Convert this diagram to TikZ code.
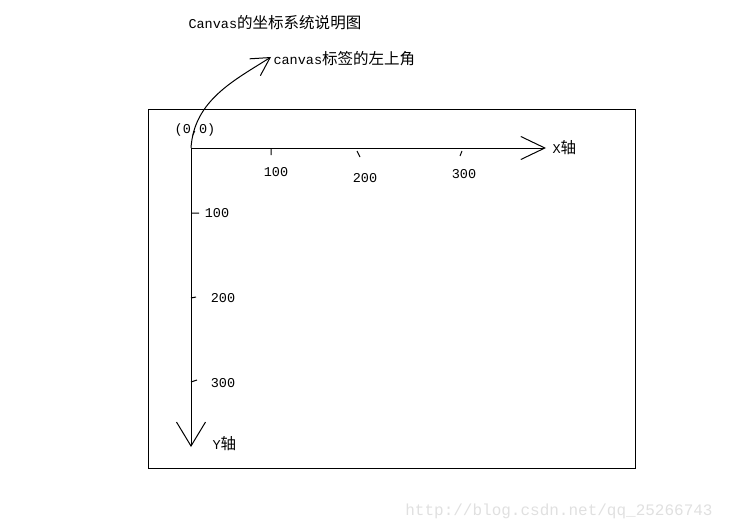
\documentclass[tikz,border=0pt]{standalone}
\usepackage{fontspec}
\setmainfont{Liberation Mono}
\newfontfamily\cjk[Scale=1.15]{Noto Sans CJK SC}
\usetikzlibrary{arrows.meta}

\begin{document}
\begin{tikzpicture}[x=1pt,y=-1pt,line width=1pt,font=\fontsize{13.5}{16}\selectfont,
    axis/.style={-{Straight Barb[length=24pt,width=#1]}},
    lbl/.style={inner sep=0pt,anchor=west}]
    \useasboundingbox (0,0) rectangle (730,532);
    \draw (148,110) rectangle (635,468);
    \coordinate (o) at (191,148);
    \coordinate (xe) at (546,148);
    \coordinate (ye) at (191,447);
    \coordinate (ce) at (271,57);
    \node[lbl] (t) at (188,23) {Canvas\cjk 的坐标系统说明图};
    \node[lbl] (c) at (273,59) {canvas\cjk 标签的左上角};
    \node (oo) at (195,130) {(0,0)};
    \node[lbl] (xl) at (552,148) {X\cjk 轴};
    \node[lbl] (yl) at (212,444) {Y\cjk 轴};
    \draw[axis=23pt] (o) -- (xe);
    \draw[axis=29pt] (o) -- (ye);
    \draw[-{Straight Barb[length=18pt,width=20pt]}] (o) .. controls (194,100) and (235,80) .. (ce);
    \draw (271,148) -- (271,155)
    (357,151) -- (360,157)
    (462,151) -- (460,156)
    (191,213) -- (199,213)
    (191,298) -- (196,297)
    (191,382) -- (197,380);
    \node (x1) at (276,172) {100};
    \node (x2) at (365,178) {200};
    \node (x3) at (464,174) {300};
    \node (y1) at (217,213) {100};
    \node (y2) at (223,298) {200};
    \node (y3) at (223,383) {300};
    \node[text=black!12,font=\fontsize{16}{18}\selectfont] (w) at (559,511) {http://blog.csdn.net/qq\_25266743};
\end{tikzpicture}
\end{document}
